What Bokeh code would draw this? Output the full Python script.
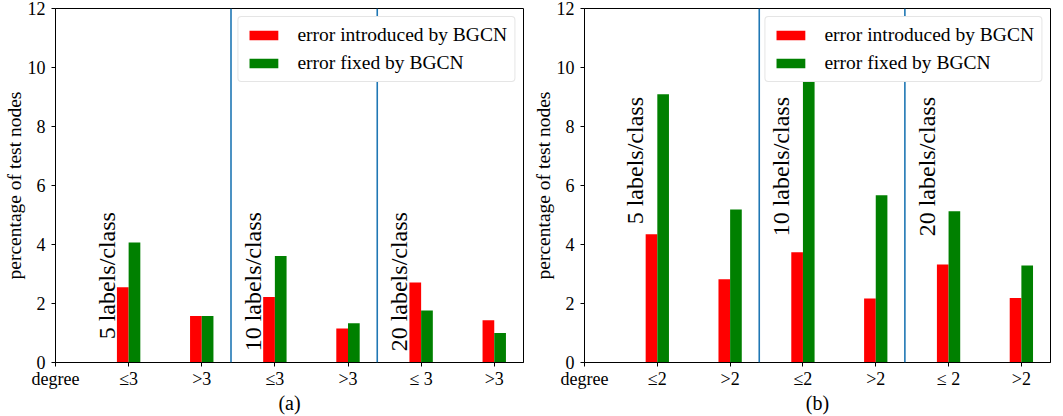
import numpy as np
from bokeh.plotting import figure
from bokeh.models import (Legend, LegendItem, Span, FixedTicker, Range1d,
                          ColumnDataSource, Label)
from bokeh.layouts import row
from bokeh.embed import file_html
from bokeh.resources import INLINE

# ---------------- data ----------------
tick_positions = [0, 1, 2, 3, 4, 5, 6]
bar_positions = [1, 2, 3, 4, 5, 6]
tick_labels_a = ["degree", "≤3", ">3", "≤3", ">3", "≤ 3", ">3"]
tick_labels_b = ["degree", "≤2", ">2", "≤2", ">2", "≤ 2", ">2"]

introduced_a = [2.55, 1.58, 2.22, 1.15, 2.71, 1.43]
fixed_a = [4.07, 1.58, 3.61, 1.33, 1.76, 1.00]
introduced_b = [4.35, 2.82, 3.74, 2.17, 3.32, 2.19]
fixed_b = [9.09, 5.19, 9.75, 5.67, 5.13, 3.29]

group_labels = ["5 labels/class", "10 labels/class", "20 labels/class"]
group_label_x = [0.7, 2.7, 4.7]
group_label_top_a = 5.1
group_label_top_b = 9.0
separators = [2.4, 4.4]
y_ticks = [0, 2, 4, 6, 8, 10, 12]
y_label = "percentage of test nodes"

FONT = "Liberation Serif"
RED = "#ff0000"
GREEN = "#008000"
BLUE = "#1f77b4"
BAR_W = 0.16


def make_panel(tick_labels, introduced, fixed, label_top, sub, width,
               border_left, border_right):
    p = figure(width=width, height=416, x_range=Range1d(0, 6.4),
               y_range=Range1d(0, 12), output_backend="svg",
               toolbar_location=None, min_border_left=border_left,
               min_border_right=border_right, min_border_top=8,
               min_border_bottom=52)
    p.grid.visible = False
    p.outline_line_color = "black"
    p.outline_line_width = 1
    p.background_fill_color = "white"
    p.border_fill_color = "white"

    src = ColumnDataSource(dict(
        xr=[x - BAR_W / 2 for x in bar_positions],
        xg=[x + BAR_W / 2 for x in bar_positions],
        red=introduced, green=fixed))
    r_red = p.vbar(x="xr", top="red", width=BAR_W, bottom=0, source=src,
                   fill_color=RED, line_color=None)
    r_green = p.vbar(x="xg", top="green", width=BAR_W, bottom=0, source=src,
                     fill_color=GREEN, line_color=None)

    for s in separators:
        p.add_layout(Span(location=s, dimension="height", line_color=BLUE,
                          line_width=1.6))

    for gx, gt in zip(group_label_x, group_labels):
        p.add_layout(Label(x=gx, y=label_top, text=gt, angle=np.pi / 2,
                           text_align="right", text_baseline="middle",
                           text_font=FONT, text_font_size="24px",
                           text_color="black"))

    # axes
    p.xaxis.ticker = FixedTicker(ticks=tick_positions)
    p.xaxis.major_label_overrides = {t: l for t, l in zip(tick_positions, tick_labels)}
    p.yaxis.ticker = FixedTicker(ticks=y_ticks)
    for ax in (p.xaxis[0], p.yaxis[0]):
        ax.minor_tick_line_color = None
        ax.major_tick_in = 0
        ax.major_tick_out = 4
        ax.axis_line_color = "black"
        ax.major_tick_line_color = "black"
        ax.major_label_text_font = FONT
        ax.major_label_text_font_size = "18px"
        ax.major_label_text_color = "black"
        ax.axis_label_text_font = FONT
        ax.axis_label_text_font_style = "normal"
        ax.axis_label_text_color = "black"
    p.xaxis.major_label_standoff = 2
    p.xaxis.axis_label = sub
    p.xaxis.axis_label_text_font_size = "20px"
    p.xaxis.axis_label_standoff = 0
    p.yaxis.major_label_standoff = 6
    p.yaxis.axis_label = y_label
    p.yaxis.axis_label_text_font_size = "19.5px"
    p.yaxis.axis_label_standoff = 0

    legend = Legend(items=[
        LegendItem(label="error introduced by BGCN", renderers=[r_red]),
        LegendItem(label="error fixed by BGCN", renderers=[r_green]),
    ], location="top_right")
    legend.label_text_font = FONT
    legend.label_text_font_size = "19.5px"
    legend.label_text_color = "black"
    legend.glyph_width = 36
    legend.glyph_height = 12
    legend.label_standoff = 16
    legend.label_height = 20
    legend.spacing = 6
    legend.padding = 7
    legend.margin = 8
    legend.border_line_color = "#cccccc"
    legend.border_line_width = 1
    legend.background_fill_alpha = 1.0
    if "border_radius" in Legend.properties():
        legend.border_radius = 4
    p.add_layout(legend)
    return p


pa = make_panel(tick_labels_a, introduced_a, fixed_a, group_label_top_a,
                "(a)", 529, 54, 6)
pb = make_panel(tick_labels_b, introduced_b, fixed_b, group_label_top_b,
                "(b)", 532, 54, 11)

layout = row(pa, pb)
open("out.html", "w").write(file_html(layout, INLINE))
